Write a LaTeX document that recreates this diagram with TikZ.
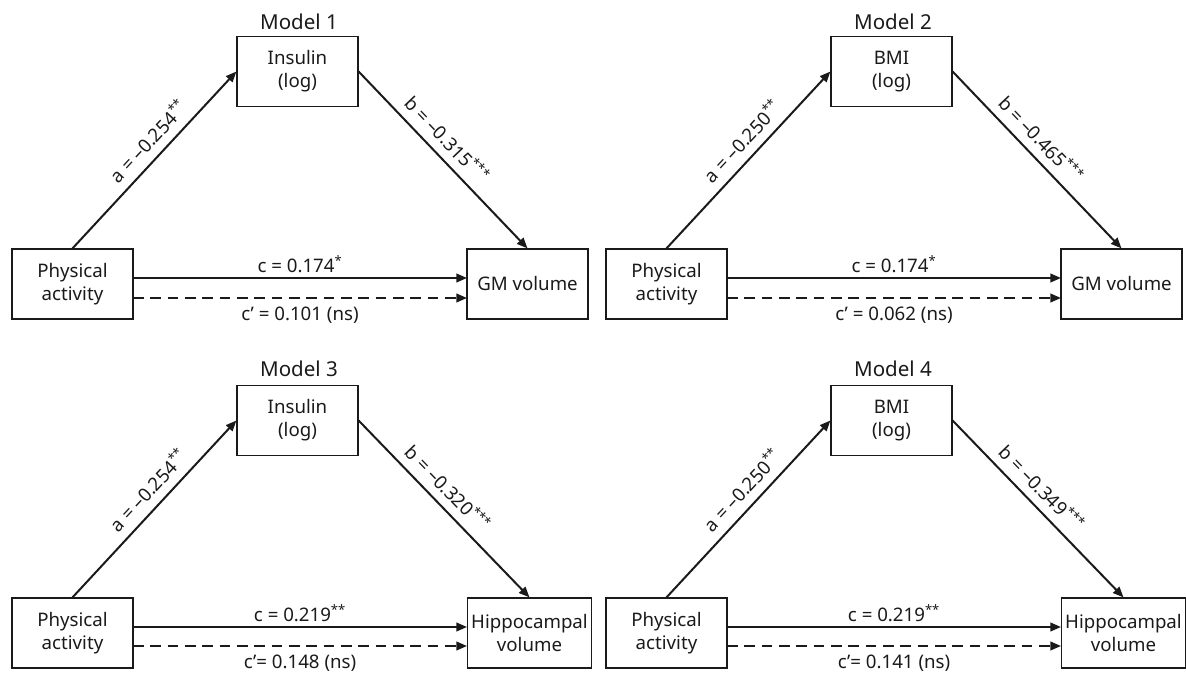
\documentclass[tikz,border=0pt]{standalone}
\usepackage{fontspec}
\setmainfont{Noto Sans}
\usetikzlibrary{arrows.meta}
\definecolor{ink}{HTML}{1A1A1A}
\tikzset{
  box/.style={draw=ink, line width=0.9pt, minimum width=90.75pt, minimum height=52.5pt, inner sep=1pt, align=center, text=ink, font=\fontsize{14}{17.2}\selectfont},
  widebox/.style={box, minimum width=93pt},
  ttl/.style={text=ink, font=\fontsize{15.4}{18}\selectfont, inner sep=0pt},
  arr/.style={draw=ink, line width=1.5pt, -{Triangle[length=8pt,width=6.5pt]}},
  darr/.style={arr, dash pattern=on 8pt off 5pt},
  lbl/.style={text=ink, font=\fontsize{14}{16}\selectfont},
}
\newcommand{\sig}[1]{\textsuperscript{#1}}
\begin{document}
\begin{tikzpicture}[x=0.75pt, y=-0.75pt]
\useasboundingbox (0,0) rectangle (1186,677);

% ---------- Model 1 ----------
\begin{scope}
\node[ttl] (t1) at (299,22) {Model 1};
\node[box] (m1) at (297.5,71.5) {Insulin\\(log)};
\node[box] (x1) at (72.5,284) {Physical\\activity};
\node[box] (y1) at (527.5,284) {GM volume};
\coordinate (x1c) at (133,278); \coordinate (y1c) at (467,278);
\coordinate (x1d) at (133,298); \coordinate (y1d) at (467,298);
\draw[arr] (x1.north) -- node[lbl, sloped, above=3pt, pos=0.54] {a = –0.254\sig{**}} (m1.west);
\draw[arr] (m1.east) -- node[lbl, sloped, above=3pt, pos=0.45] {b = –0.315\sig{***}} (y1.north);
\draw[arr] (x1c) -- node[lbl, above] {c = 0.174\sig{*}} (y1c);
\draw[darr] (x1d) -- node[lbl, below=3pt] {c’ = 0.101 (ns)} (y1d);
\end{scope}

% ---------- Model 2 ----------
\begin{scope}[shift={(594,0)}]
\node[ttl] (t2) at (299,22) {Model 2};
\node[box] (m2) at (297.5,71.5) {BMI\\(log)};
\node[box] (x2) at (72.5,284) {Physical\\activity};
\node[box] (y2) at (527.5,284) {GM volume};
\coordinate (x2c) at (133,278); \coordinate (y2c) at (467,278);
\coordinate (x2d) at (133,298); \coordinate (y2d) at (467,298);
\draw[arr] (x2.north) -- node[lbl, sloped, above=3pt, pos=0.54] {a = –0.250\sig{**}} (m2.west);
\draw[arr] (m2.east) -- node[lbl, sloped, above=3pt, pos=0.45] {b = –0.465\sig{***}} (y2.north);
\draw[arr] (x2c) -- node[lbl, above] {c = 0.174\sig{*}} (y2c);
\draw[darr] (x2d) -- node[lbl, below=3pt] {c’ = 0.062 (ns)} (y2d);
\end{scope}

% ---------- Model 3 ----------
\begin{scope}[shift={(0,349)}]
\node[ttl] (t3) at (299,20) {Model 3};
\node[box] (m3) at (297.5,71.5) {Insulin\\(log)};
\node[box] (x3) at (72.5,284) {Physical\\activity};
\node[widebox] (y3) at (529.5,284) {Hippocampal\\volume};
\coordinate (x3c) at (133,278); \coordinate (y3c) at (467,278);
\coordinate (x3d) at (133,297); \coordinate (y3d) at (467,297);
\draw[arr] (x3.north) -- node[lbl, sloped, above=3pt, pos=0.54] {a = –0.254\sig{**}} (m3.west);
\draw[arr] (m3.east) -- node[lbl, sloped, above=3pt, pos=0.45] {b = –0.320\sig{***}} (y3.north);
\draw[arr] (x3c) -- node[lbl, above] {c = 0.219\sig{**}} (y3c);
\draw[darr] (x3d) -- node[lbl, below=3pt] {c’= 0.148 (ns)} (y3d);
\end{scope}

% ---------- Model 4 ----------
\begin{scope}[shift={(594,349)}]
\node[ttl] (t4) at (299,20) {Model 4};
\node[box] (m4) at (297.5,71.5) {BMI\\(log)};
\node[box] (x4) at (72.5,284) {Physical\\activity};
\node[widebox] (y4) at (529.5,284) {Hippocampal\\volume};
\coordinate (x4c) at (133,278); \coordinate (y4c) at (467,278);
\coordinate (x4d) at (133,297); \coordinate (y4d) at (467,297);
\draw[arr] (x4.north) -- node[lbl, sloped, above=3pt, pos=0.54] {a = –0.250\sig{**}} (m4.west);
\draw[arr] (m4.east) -- node[lbl, sloped, above=3pt, pos=0.45] {b = –0.349\sig{***}} (y4.north);
\draw[arr] (x4c) -- node[lbl, above] {c = 0.219\sig{**}} (y4c);
\draw[darr] (x4d) -- node[lbl, below=3pt] {c’= 0.141 (ns)} (y4d);
\end{scope}
\end{tikzpicture}
\end{document}
